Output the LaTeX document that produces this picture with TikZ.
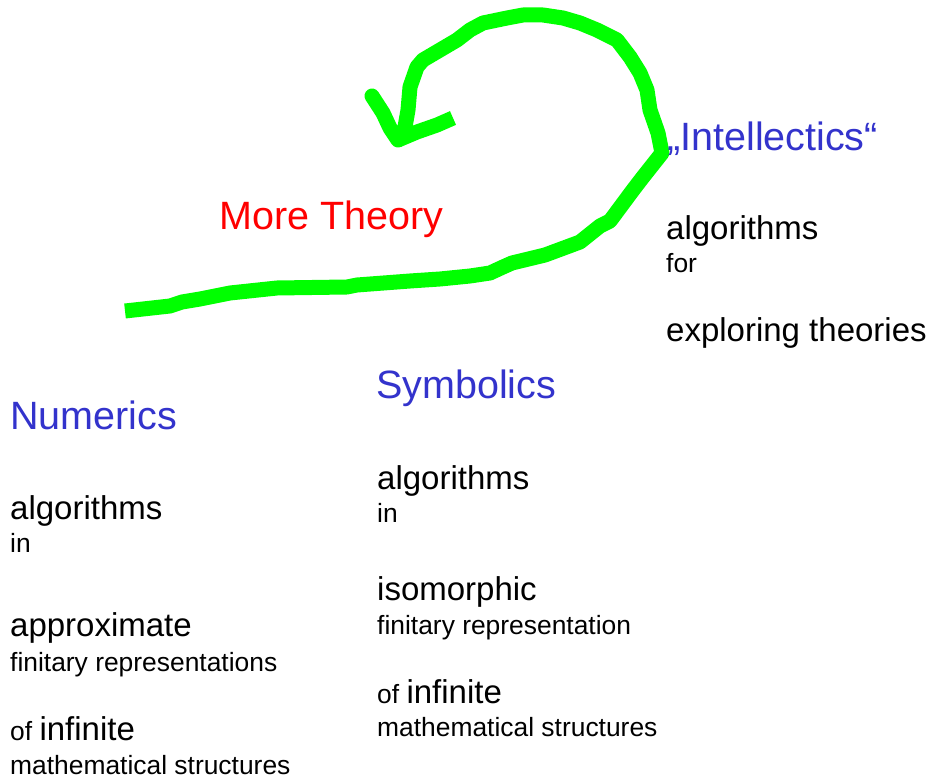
\documentclass[tikz,border=0pt]{standalone}
\usepackage{fontspec}
\setmainfont{Liberation Sans}
\usepackage{xcolor}
\usepackage{tikz}

\definecolor{headblue}{RGB}{51,51,204}
\definecolor{loopgreen}{RGB}{0,255,0}
\newcommand{\smallsz}{\fontsize{26.4}{30}\selectfont}
\newcommand{\bodysz}{\fontsize{33}{38}\selectfont}

\begin{document}
\begin{tikzpicture}[
    x=1pt,y=-1pt,
    heading/.style={anchor=base west,inner sep=0pt,text=headblue,
      font=\fontsize{39.5}{45}\selectfont},
    body/.style={anchor=base west,inner sep=0pt,font=\bodysz},
    small/.style={anchor=base west,inner sep=0pt,font=\smallsz},
    stroke/.style={draw=loopgreen,line width=15pt,line join=round}
  ]
    \useasboundingbox (0,0) rectangle (934,783);

    % hand drawn loop: from the numerics side up round to "more theory"
    \coordinate (tail) at (125,311);
    \coordinate (tip) at (398,140);
    \draw[stroke] (tail) -- (170,306) -- (182,302) -- (200,299)
      -- (230,293) -- (277,288) -- (347,287) -- (357,285) -- (410,281)
      -- (440,279) -- (470,276) -- (490,273) -- (503,267) -- (512,263)
      -- (545,255) -- (580,242) -- (590,234) -- (600,226) -- (610,221)
      -- (633,190) -- (643,177) -- (662,153) -- (658,133) -- (650,110)
      -- (647,90) -- (640,73) -- (630,57) -- (617,40) -- (597,30)
      -- (580,23) -- (563,18) -- (543,15) -- (523,15) -- (507,18)
      -- (483,23) -- (470,30) -- (457,40) -- (440,50) -- (423,60)
      -- (417,67) -- (410,87) -- (408,110) -- (405,127) -- (tip);
    \draw[stroke] (tip) -- (417,132) -- (437,125) -- (453,118);
    \draw[stroke,line cap=round] (tip) -- (390,128) -- (383,113)
      -- (372,96);

    \node[anchor=base west,inner sep=0pt,text=red,
      font=\fontsize{39.5}{45}\selectfont] (theory) at (219,230)
      {More Theory};

    % right column
    \node[heading] (intel) at (667,151) {„Intellectics“};
    \node[body] (ialg) at (666,240) {algorithms};
    \node[small] (ifor) at (666,273) {for};
    \node[body] (iexp) at (666,342) {exploring theories};

    % middle column
    \node[heading] (symb) at (376,399) {Symbolics};
    \node[body] (salg) at (377,489) {algorithms};
    \node[small] (sin) at (377,522) {in};
    \node[body] (siso) at (377,600) {isomorphic};
    \node[small] (sfin) at (377,634) {finitary representation};
    \node[body] (sinf) at (377,703) {\smallsz of \bodysz infinite};
    \node[small] (smath) at (377,736) {mathematical structures};

    % left column
    \node[heading] (num) at (10,429) {Numerics};
    \node[body] (nalg) at (10,519) {algorithms};
    \node[small] (nin) at (10,552) {in};
    \node[body] (napp) at (10,636) {approximate};
    \node[small] (nfin) at (10,671) {finitary representations};
    \node[body] (ninf) at (10,740) {\smallsz of \bodysz infinite};
    \node[small] (nmath) at (10,774) {mathematical structures};
  \end{tikzpicture}
\end{document}
